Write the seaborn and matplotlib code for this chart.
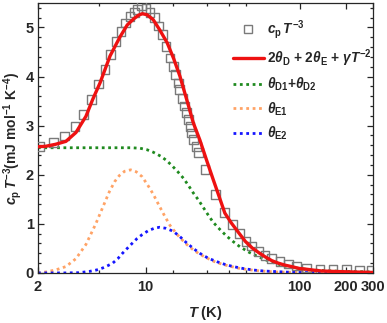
import numpy as np
import pandas as pd
import matplotlib
matplotlib.use("Agg")
import matplotlib.pyplot as plt
import seaborn as sns
from matplotlib.lines import Line2D
from matplotlib.ticker import FixedLocator, MultipleLocator, NullFormatter, FixedFormatter

# measured cp/T^3 (mJ mol-1 K-4)
T_data = [2.06, 2.51, 2.99, 3.48, 3.94, 4.46, 4.93, 5.45, 5.93, 6.42, 6.92, 7.45, 7.91,
          8.44, 8.88, 9.43, 10.05, 10.67, 11.38, 12.08, 12.9, 13.55, 14.4, 15.1, 15.7,
          16.3, 16.7, 17.4, 18.0, 18.5, 18.9, 19.4, 19.9, 20.4, 21.5, 22.0, 24.3, 28.6,
          32.7, 36.7, 40.6, 44.9, 48.9, 54.0, 59.6, 65.9, 74.5, 84.4, 95.7, 111, 135.6,
          164.7, 202, 246, 294]
cp_data = [2.58, 2.65, 2.79, 2.98, 3.22, 3.53, 3.85, 4.15, 4.45, 4.71, 4.91, 5.09, 5.22,
           5.30, 5.37, 5.44, 5.38, 5.30, 5.20, 5.03, 4.86, 4.62, 4.38, 4.21, 4.04,
           3.87, 3.73, 3.56, 3.40, 3.26, 3.12, 2.99, 2.85, 2.71, 2.58, 2.46, 2.10, 1.59,
           1.23, 0.99, 0.80, 0.64, 0.55, 0.43, 0.36, 0.30, 0.23, 0.18, 0.14, 0.10, 0.08,
           0.075, 0.07, 0.06, 0.06]

# fit: 2 Debye + 2 Einstein + gamma T^-2
T_fit = [2.0, 2.25, 2.6, 3.04, 3.53, 4.1, 4.53, 5.06, 5.88, 6.8, 7.6, 8.34, 9.0, 9.52,
         10.2, 11.2, 12.3, 13.8, 15.2, 16.7, 18.5, 20.4, 22.5, 25.0, 27.5, 30.0, 32.7,
         36.0, 40.2, 44.5, 49.2, 54.5, 59.6, 66.0, 72.7, 80.0, 88.5, 100, 108, 125, 139,
         170, 220, 300]
cp_fit = [2.57, 2.58, 2.62, 2.68, 2.86, 3.19, 3.53, 3.87, 4.42, 4.80, 5.05, 5.17, 5.25,
          5.28, 5.26, 5.16, 4.96, 4.69, 4.37, 4.01, 3.53, 3.06, 2.71, 2.28, 1.90, 1.56,
          1.22, 1.02, 0.82, 0.64, 0.51, 0.41, 0.33, 0.25, 0.20, 0.16, 0.13, 0.09, 0.08,
          0.055, 0.04, 0.03, 0.02, 0.01]

# Debye part
T_D = [2.0, 3.0, 5.0, 7.0, 8.0, 9.2, 10.2, 11.2, 12.5, 13.7, 15.0, 16.2, 17.6, 19.0,
       20.4, 22.0, 23.4, 25.5, 27.5, 30.5, 33.6, 37.0, 41.1, 47.0, 54.0, 61.0, 69.3,
       78.0, 88.5, 100, 119, 150, 200, 300]
cp_D = [2.55, 2.55, 2.55, 2.55, 2.55, 2.54, 2.51, 2.46, 2.38, 2.29, 2.17, 2.06, 1.93,
        1.78, 1.63, 1.49, 1.36, 1.18, 1.03, 0.88, 0.75, 0.64, 0.53, 0.42, 0.33, 0.26,
        0.20, 0.15, 0.11, 0.09, 0.06, 0.045, 0.03, 0.02]

# Einstein 1
T_E1 = [2.0, 2.25, 2.6, 3.04, 3.53, 4.1, 4.75, 5.26, 5.81, 6.3, 6.74, 7.3, 8.0, 8.7,
        9.5, 10.67, 11.4, 12.3, 13.3, 14.4, 15.5, 16.7, 18.5, 20.4, 22.5, 24.8, 28.0,
        32.0, 36.0, 41.1, 47.0, 55.5, 70, 100, 150, 300]
cp_E1 = [0.0, 0.02, 0.06, 0.13, 0.29, 0.58, 1.00, 1.33, 1.65, 1.86, 1.98, 2.07, 2.10,
         2.06, 1.96, 1.72, 1.56, 1.36, 1.16, 0.97, 0.84, 0.72, 0.58, 0.47, 0.38, 0.31,
         0.23, 0.17, 0.13, 0.09, 0.065, 0.04, 0.02, 0.01, 0.005, 0.0]

# Einstein 2
T_E2 = [2.0, 3.0, 3.69, 4.3, 4.8, 5.26, 5.7, 6.12, 6.6, 7.08, 7.6, 8.23, 8.8, 9.5,
        10.4, 11.4, 12.3, 13.5, 15.1, 16.7, 18.5, 20.4, 22.5, 25.5, 29.0, 33.0, 37.0,
        43.0, 49.9, 58.0, 67.0, 85, 120, 200, 300]
cp_E2 = [0.0, 0.0, 0.005, 0.03, 0.06, 0.10, 0.15, 0.20, 0.29, 0.40, 0.50, 0.61, 0.70,
         0.78, 0.86, 0.91, 0.93, 0.91, 0.85, 0.74, 0.61, 0.50, 0.40, 0.30, 0.23, 0.17,
         0.13, 0.09, 0.06, 0.04, 0.03, 0.015, 0.007, 0.003, 0.0]

x_major = [2, 10, 100, 200, 300]
x_major_labels = ["2", "10", "100", "200", "300"]
x_minor = [5, 15, 25, 35, 45]

sns.set_theme(style="ticks")
plt.rcParams["font.family"] = ["Liberation Sans", "DejaVu Sans"]
plt.rcParams["font.weight"] = "bold"
plt.rcParams["mathtext.fontset"] = "custom"
plt.rcParams["mathtext.rm"] = "Liberation Sans:bold"
plt.rcParams["mathtext.it"] = "Liberation Sans:bold:italic"
plt.rcParams["mathtext.bf"] = "Liberation Sans:bold"

fig = plt.figure(figsize=(3.87, 3.23), dpi=100)
ax = fig.add_axes([0.098, 0.155, 0.866, 0.836])

dot = (0, (1, 1.3))
sns.lineplot(x=T_D, y=cp_D, ax=ax, color="#1f8a1f", lw=2.0, linestyle=dot, sort=False)
sns.lineplot(x=T_E1, y=cp_E1, ax=ax, color="#ffa366", lw=2.0, linestyle=dot, sort=False)
sns.lineplot(x=T_E2, y=cp_E2, ax=ax, color="#1515ff", lw=2.0, linestyle=dot, sort=False)
sns.scatterplot(x=T_data, y=cp_data, ax=ax, marker="s", s=40, facecolor="none",
                edgecolor="#7a7a7a", linewidth=1.0, zorder=3)
sns.lineplot(x=T_fit, y=cp_fit, ax=ax, color="#ee1111", lw=2.4, sort=False, zorder=4)

ax.set_xscale("log")
ax.set_xlim(2, 300)
ax.set_ylim(0, 5.5)
ax.xaxis.set_major_locator(FixedLocator(x_major))
ax.xaxis.set_major_formatter(FixedFormatter(x_major_labels))
ax.xaxis.set_minor_locator(FixedLocator(x_minor))
ax.xaxis.set_minor_formatter(NullFormatter())
ax.yaxis.set_major_locator(MultipleLocator(1))
ax.yaxis.set_minor_locator(MultipleLocator(0.2))
ax.tick_params(which="both", direction="in", top=True, right=True, width=0.9,
               labelsize=10.5)
ax.tick_params(axis="y", pad=3)
ax.tick_params(axis="x", pad=5)
ax.tick_params(which="major", length=4)
ax.tick_params(which="minor", length=2.5)
for lab in ax.get_xticklabels() + ax.get_yticklabels():
    lab.set_fontweight("bold")
for sp in ax.spines.values():
    sp.set_linewidth(0.9)

ax.set_xlabel(r"$T$ (K)", fontsize=10.5, fontweight="bold", labelpad=7)
ax.set_ylabel(r"$c_{\rm p}\,T^{-3}$(mJ mol$^{-1}$ K$^{-4}$)", fontsize=10,
              fontweight="bold", labelpad=1)

handles = [
    Line2D([], [], marker="s", ls="none", mfc="none", mec="#7a7a7a", ms=6, mew=1.0),
    Line2D([], [], color="#ee1111", lw=2.4),
    Line2D([], [], color="#1f8a1f", lw=2.0, ls=dot),
    Line2D([], [], color="#ffa366", lw=2.0, ls=dot),
    Line2D([], [], color="#1515ff", lw=2.0, ls=dot),
]
labels = [
    r"$c_{\rm p}\,T^{-3}$",
    r"2$\theta_{\rm D}$ + 2$\theta_{\rm E}$ + $\gamma T^{-2}$",
    r"$\theta_{\rm D1}$+$\theta_{\rm D2}$",
    r"$\theta_{\rm E1}$",
    r"$\theta_{\rm E2}$",
]
ax.legend(handles, labels, loc="upper right", bbox_to_anchor=(1.022, 0.975), frameon=False,
          fontsize=9.8, handlelength=2.3, handletextpad=0.25, labelspacing=0.5,
          borderaxespad=0.2)

fig.savefig("out.png", dpi=100)
